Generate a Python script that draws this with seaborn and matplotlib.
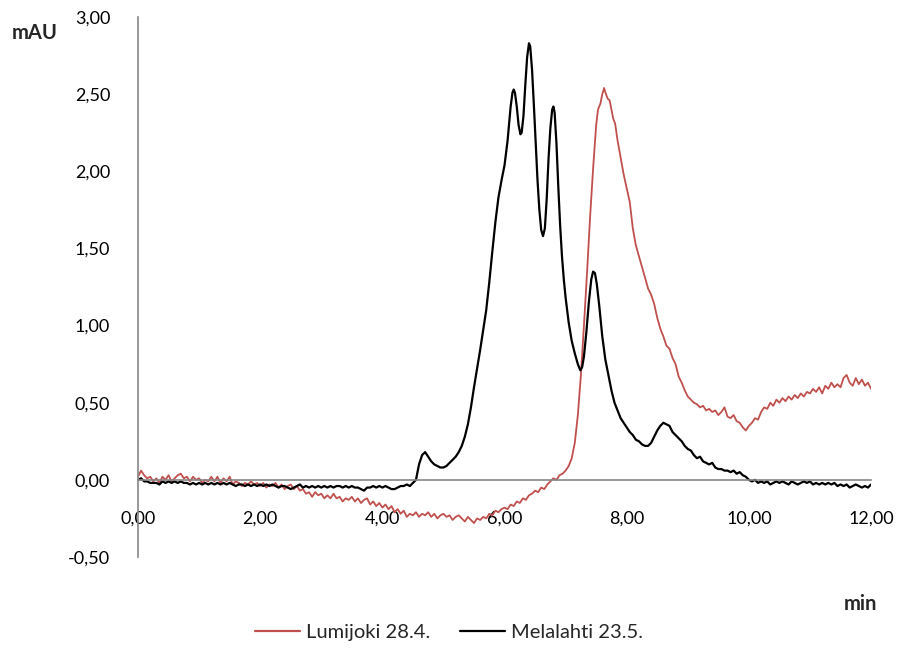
import matplotlib
matplotlib.use("Agg")
import matplotlib.pyplot as plt
import numpy as np
import pandas as pd
import seaborn as sns


def grid(start, stop, step=0.05):
    """Regular sampling times from start to stop (inclusive), in minutes."""
    n = int(round((stop - start) / step)) + 1
    return [round(start + i * step, 2) for i in range(n)]


# ---- Lumijoki 28.4. (absorbance in mAU) ----
lumi_base_t = grid(0.0, 7.0)
lumi_base_v = [
    0.02, 0.06, 0.03, 0.01, 0.02, -0.01, 0.01, -0.02, 0.02, 0.00, 0.03, -0.01, 0.01, 0.03, 0.04, 0.01, 0.02, -0.01, 0.02, 0.00,
    0.01, -0.02, 0.00, -0.01, 0.02, -0.01, 0.02, -0.02, 0.01, -0.01, 0.02, -0.03, -0.01, -0.02, -0.04, -0.02, -0.03, -0.01, -0.03, -0.02,
    -0.04, -0.02, -0.05, -0.03, -0.04, -0.02, -0.05, -0.03, -0.06, -0.04, -0.03, -0.06, -0.04, -0.07, -0.06, -0.09, -0.08, -0.11, -0.08, -0.10,
    -0.09, -0.12, -0.10, -0.12, -0.09, -0.12, -0.11, -0.14, -0.12, -0.13, -0.11, -0.14, -0.12, -0.15, -0.13, -0.12, -0.16, -0.14, -0.17, -0.15,
    -0.18, -0.16, -0.19, -0.17, -0.21, -0.19, -0.22, -0.20, -0.24, -0.22, -0.23, -0.21, -0.24, -0.22, -0.23, -0.21, -0.24, -0.22, -0.25, -0.23,
    -0.22, -0.24, -0.23, -0.26, -0.24, -0.23, -0.25, -0.27, -0.24, -0.26, -0.28, -0.25, -0.26, -0.24, -0.25, -0.22, -0.23, -0.20, -0.21, -0.19,
    -0.18, -0.19, -0.16, -0.17, -0.14, -0.15, -0.12, -0.13, -0.10, -0.09, -0.07, -0.08, -0.05, -0.06, -0.03, -0.01, 0.01, 0.00, 0.03, 0.04,
    0.06,
]
lumi_peak_t = [7.05, 7.10, 7.15, 7.20, 7.25, 7.30, 7.35, 7.40, 7.45, 7.50, 7.53, 7.57, 7.60, 7.63,
               7.66, 7.69, 7.72, 7.75, 7.78, 7.81, 7.85, 7.90, 7.95, 8.00, 8.05, 8.08, 8.10,
               8.15, 8.20, 8.25, 8.30, 8.35, 8.40, 8.45, 8.50]
lumi_peak_v = [0.09, 0.14, 0.24, 0.42, 0.68, 1.00, 1.34, 1.70, 2.02, 2.30, 2.40, 2.44, 2.50, 2.54,
               2.50, 2.47, 2.46, 2.40, 2.34, 2.31, 2.20, 2.09, 1.98, 1.89, 1.80, 1.70, 1.63,
               1.52, 1.45, 1.38, 1.31, 1.24, 1.20, 1.14, 1.05]
lumi_tail_t = grid(8.55, 12.0)
lumi_tail_v = [
    0.98, 0.93, 0.87, 0.85, 0.79, 0.75, 0.67, 0.63, 0.58,
    0.54, 0.52, 0.50, 0.49, 0.47, 0.48, 0.45, 0.46, 0.44, 0.45, 0.42, 0.44, 0.47, 0.41, 0.40, 0.42, 0.38, 0.37, 0.34, 0.32,
    0.35, 0.37, 0.40, 0.39, 0.44, 0.47, 0.46, 0.50, 0.48, 0.52, 0.50, 0.53, 0.51, 0.54, 0.52, 0.55, 0.53, 0.56, 0.54, 0.57,
    0.56, 0.59, 0.57, 0.60, 0.56, 0.61, 0.59, 0.63, 0.60, 0.62, 0.60, 0.66, 0.68, 0.63, 0.61, 0.66, 0.62, 0.65, 0.61, 0.63,
    0.59,
]

# ---- Melalahti 23.5. (absorbance in mAU) ----
mela_base_t = grid(0.0, 4.55)
mela_base_v = [
    0.00, 0.01, -0.01, -0.01, -0.02, -0.02, -0.02, -0.03, -0.01, -0.02, -0.01, -0.02, -0.01, -0.02, -0.01, -0.02, -0.02, -0.03, -0.02, -0.03,
    -0.02, -0.03, -0.02, -0.03, -0.02, -0.03, -0.02, -0.03, -0.02, -0.03, -0.02, -0.03, -0.04, -0.03, -0.03, -0.04, -0.03, -0.04, -0.03, -0.04,
    -0.03, -0.04, -0.03, -0.04, -0.03, -0.04, -0.05, -0.04, -0.04, -0.05, -0.06, -0.05, -0.04, -0.03, -0.05, -0.04, -0.05, -0.04, -0.05, -0.04,
    -0.05, -0.04, -0.05, -0.04, -0.05, -0.04, -0.04, -0.05, -0.04, -0.05, -0.04, -0.05, -0.05, -0.06, -0.07, -0.05, -0.05, -0.04, -0.05, -0.04,
    -0.05, -0.04, -0.05, -0.06, -0.06, -0.05, -0.04, -0.04, -0.03, -0.04, -0.02, 0.00,
]
mela_peak_t = [4.60, 4.65, 4.70, 4.75, 4.80, 4.85, 4.90, 4.95, 5.00, 5.05, 5.10, 5.15, 5.20, 5.25,
               5.30, 5.35, 5.40, 5.45, 5.50, 5.55, 5.60, 5.65, 5.70, 5.75, 5.80, 5.85, 5.90, 5.95,
               6.00, 6.05, 6.10, 6.13, 6.15, 6.17, 6.20, 6.23, 6.26, 6.28, 6.31, 6.34, 6.37, 6.40,
               6.42, 6.45, 6.48, 6.51, 6.54, 6.57, 6.60, 6.63, 6.66, 6.69, 6.72, 6.75, 6.78, 6.80,
               6.82, 6.85, 6.88, 6.91, 6.94, 6.97, 7.00, 7.05, 7.10, 7.15, 7.20, 7.24, 7.27, 7.30,
               7.34, 7.38, 7.42, 7.45, 7.48, 7.51, 7.55, 7.60, 7.65, 7.70, 7.75, 7.80, 7.85, 7.90,
               7.95, 8.00, 8.05, 8.10, 8.15, 8.20, 8.25, 8.30, 8.35, 8.40, 8.45, 8.50, 8.55, 8.60,
               8.65, 8.70, 8.75, 8.80, 8.85, 8.90, 8.95, 9.00, 9.05, 9.10, 9.15, 9.20, 9.25, 9.30,
               9.35, 9.40, 9.45, 9.50, 9.55, 9.60, 9.65, 9.70, 9.75, 9.80, 9.85, 9.90, 9.95, 10.00]
mela_peak_v = [0.10, 0.16, 0.18, 0.15, 0.12, 0.10, 0.09, 0.08, 0.08, 0.09, 0.11, 0.13, 0.15, 0.18,
               0.22, 0.28, 0.36, 0.47, 0.60, 0.72, 0.84, 0.97, 1.10, 1.28, 1.48, 1.67, 1.83, 1.94,
               2.04, 2.20, 2.42, 2.51, 2.53, 2.51, 2.42, 2.30, 2.24, 2.25, 2.36, 2.56, 2.74, 2.83,
               2.81, 2.66, 2.43, 2.18, 1.94, 1.75, 1.62, 1.58, 1.63, 1.82, 2.08, 2.28, 2.40, 2.42,
               2.38, 2.18, 1.90, 1.65, 1.45, 1.30, 1.18, 1.02, 0.90, 0.82, 0.75, 0.71, 0.73, 0.80,
               0.96, 1.15, 1.30, 1.35, 1.34, 1.27, 1.13, 0.93, 0.78, 0.68, 0.58, 0.50, 0.45, 0.40,
               0.37, 0.34, 0.31, 0.29, 0.26, 0.25, 0.23, 0.22, 0.22, 0.24, 0.28, 0.32, 0.35, 0.37,
               0.36, 0.35, 0.31, 0.29, 0.27, 0.25, 0.22, 0.20, 0.19, 0.16, 0.14, 0.15, 0.12, 0.11,
               0.10, 0.11, 0.08, 0.07, 0.07, 0.06, 0.06, 0.05, 0.06, 0.04, 0.05, 0.03, 0.02, 0.00]
mela_tail_t = grid(10.05, 12.0)
mela_tail_v = [
    -0.01, 0.00, -0.02, -0.01, -0.02, -0.01, -0.03, -0.02, -0.01, -0.02, -0.01, -0.02, -0.03, -0.01, -0.02, -0.03, -0.02, -0.01, -0.02,
    -0.01, -0.03, -0.02, -0.03, -0.02, -0.03, -0.02, -0.03, -0.02, -0.04, -0.03, -0.04, -0.03, -0.05, -0.04, -0.03, -0.04, -0.05, -0.04, -0.05,
    -0.03,
]

series_names = ["Lumijoki 28.4.", "Melalahti 23.5."]
x_ticks = [0, 2, 4, 6, 8, 10, 12]
y_ticks = [-0.5, 0.0, 0.5, 1.0, 1.5, 2.0, 2.5, 3.0]

lumi_t = lumi_base_t + lumi_peak_t + lumi_tail_t
lumi_v = lumi_base_v + lumi_peak_v + lumi_tail_v
mela_t = mela_base_t + mela_peak_t + mela_tail_t
mela_v = mela_base_v + mela_peak_v + mela_tail_v

df = pd.concat([
    pd.DataFrame({"min": lumi_t, "mAU": lumi_v, "sample": series_names[0]}),
    pd.DataFrame({"min": mela_t, "mAU": mela_v, "sample": series_names[1]}),
], ignore_index=True)

sns.set_style("white")
plt.rcParams["font.family"] = ["Lato", "DejaVu Sans"]

fig = plt.figure(figsize=(8.98, 6.5), dpi=100)
ax = fig.add_axes([0.1537, 0.1431, 0.8163, 0.8307])

palette = {series_names[0]: "#C0504D", series_names[1]: "#000000"}
sns.lineplot(data=df, x="min", y="mAU", hue="sample", palette=palette,
             estimator=None, sort=True, ax=ax, legend=False)
ax.lines[0].set_linewidth(1.3)
ax.lines[1].set_linewidth(1.6)
for ln in ax.lines:
    ln.set_solid_joinstyle("round")

ax.set_xlim(0, 12)
ax.set_ylim(-0.5, 3.0)

axis_gray = "#868686"
for s in ["top", "right"]:
    ax.spines[s].set_visible(False)
ax.spines["left"].set_color(axis_gray)
ax.spines["bottom"].set_color(axis_gray)
ax.spines["left"].set_linewidth(1.2)
ax.spines["bottom"].set_linewidth(1.2)
ax.spines["bottom"].set_position(("data", 0))

ax.set_xticks(x_ticks)
ax.set_yticks(y_ticks)
ax.set_xticklabels([f"{v:.2f}".replace(".", ",") for v in x_ticks])
ax.set_yticklabels([f"{v:.2f}".replace(".", ",") for v in y_ticks])
ax.tick_params(axis="x", direction="out", length=6, width=1.2, color=axis_gray,
               pad=16, labelsize=13, labelcolor="#000000")
ax.tick_params(axis="y", direction="out", length=6, width=1.2, color=axis_gray,
               pad=14, labelsize=13, labelcolor="#000000")
ax.set_xlabel("")
ax.set_ylabel("")

fig.text(12 / 898, 1 - 33 / 650, "mAU", fontsize=14.5, fontweight="bold", va="center", ha="left")
fig.text(877 / 898, 1 - 604 / 650, "min", fontsize=14.5, fontweight="bold", va="center", ha="right")

handles = [plt.Line2D([], [], color=palette[n], lw=1.6) for n in series_names]
fig.legend(handles, series_names, loc="center", bbox_to_anchor=(0.50, 1 - 632 / 650),
           ncol=2, frameon=False, fontsize=14.5, handlelength=2.2, handletextpad=0.3,
           columnspacing=1.5)

fig.savefig("out.png", dpi=100)
